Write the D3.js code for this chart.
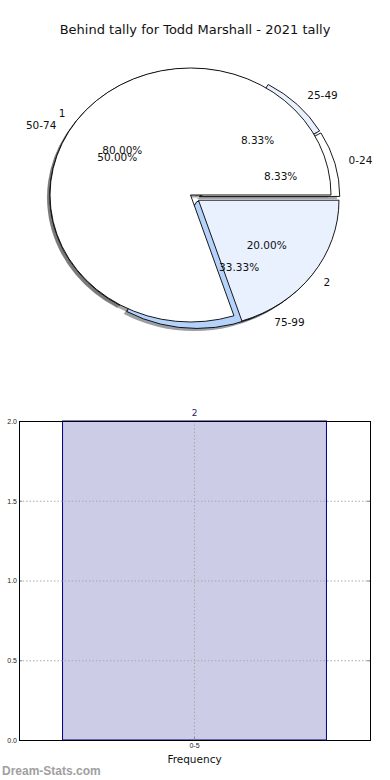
<!DOCTYPE html>
<html>
<head>
<meta charset="utf-8">
<script src="https://cdn.jsdelivr.net/npm/d3@7"></script>
<style>
  body { margin: 0; background: #fff; }
  svg { display: block; font-family: "DejaVu Sans", sans-serif; }
</style>
</head>
<body>
<div id="chart"></div>
<script>
const TITLE = 'Behind tally for Todd Marshall - 2021 tally';

// outer pie (score ranges) and inner pie (tally)
const outerLabels = ['0-24', '25-49', '50-74', '75-99'];
const outerValues = [1, 1, 6, 4];
const outerColors = ['#ffffff', '#e9f0fe', '#ffffff', '#b4d2fa'];
const innerLabels = ['1', '2'];
const innerValues = [4, 1];
const innerColors = ['#ffffff', '#e9f0fe'];

// frequency histogram
const barCategories = ['0-5'];
const barValues = [2];
const yTicks = [0, 0.5, 1.0, 1.5, 2.0];

const WIDTH = 390;
const HEIGHT = 780;

const PIE = { CX: 194.5, CY: 197.6, RX: 140.5, RY: 127 };
const EXPLODE = 0.035;
const SHADOW = 0.02;

const BAR = { LEFT: 19, RIGHT: 370, TOP: 421, BOTTOM: 740 };

const svg = d3.select('#chart')
              .append('svg')
              .attr('width', WIDTH)
              .attr('height', HEIGHT);

svg.append('text')
     .attr('x', WIDTH / 2)
     .attr('y', 34)
     .attr('text-anchor', 'middle')
     .style('font-size', '13px')
     .attr('fill', '#111')
     .text(TITLE);

// ---- pie ----
const px = d3.scaleLinear().domain([-1, 1]).range([PIE.CX - PIE.RX, PIE.CX + PIE.RX]);
const py = d3.scaleLinear().domain([-1, 1]).range([PIE.CY + PIE.RY, PIE.CY - PIE.RY]);

// counter-clockwise from 3 o'clock, like the original
const pie = d3.pie()
              .sort(null)
              .value(d => d.value)
              .startAngle(Math.PI / 2)
              .endAngle(Math.PI / 2 - 2 * Math.PI);

const arc = d3.arc().innerRadius(0).outerRadius(PIE.RX);

function build(labels, values, colors) {
  const total = d3.sum(values);
  return pie(labels.map((l, i) => ({ label: l, value: values[i], color: colors[i], pct: values[i] / total })))
    .map(d => {
      const a = (d.startAngle + d.endAngle) / 2;
      d.ux = Math.sin(a);
      d.uy = Math.cos(a);
      d.ox = EXPLODE * d.ux;
      d.oy = EXPLODE * d.uy;
      return d;
    });
}

const wedges = [
  ...build(outerLabels, outerValues, outerColors),
  ...build(innerLabels, innerValues, innerColors)
];

const yScale = PIE.RY / PIE.RX;

const shadowG = svg.append('g');
shadowG.selectAll('path')
  .data(wedges)
  .enter()
  .append('path')
  .attr('d', arc)
  .attr('transform', d => `translate(${px(d.ox - SHADOW)},${py(d.oy - SHADOW)}) scale(1,${yScale})`)
  .attr('fill', d => {
    const c = d3.rgb(d.data.color);
    return d3.rgb(c.r * 0.3, c.g * 0.3, c.b * 0.3);
  })
  .attr('fill-opacity', 0.5);

const wedgeG = svg.append('g');
wedgeG.selectAll('path')
  .data(wedges)
  .enter()
  .append('path')
  .attr('d', arc)
  .attr('transform', d => `translate(${px(d.ox)},${py(d.oy)}) scale(1,${yScale})`)
  .attr('fill', d => d.data.color)
  .attr('stroke', '#000')
  .attr('stroke-width', 0.9)
  .attr('vector-effect', 'non-scaling-stroke');

const textG = svg.append('g').style('font-size', '10.5px').attr('fill', '#111');
wedges.forEach(d => {
  textG.append('text')
       .attr('x', px(d.ox + 1.1 * d.ux))
       .attr('y', py(d.oy + 1.1 * d.uy))
       .attr('dy', '0.35em')
       .attr('text-anchor', d.ux < 0 ? 'end' : 'start')
       .text(d.data.label);
  textG.append('text')
       .attr('x', px(d.ox + 0.6 * d.ux))
       .attr('y', py(d.oy + 0.6 * d.uy))
       .attr('dy', '0.35em')
       .attr('text-anchor', 'middle')
       .text(d3.format('.2%')(d.data.pct));
});

// ---- bar chart ----
const x = d3.scaleBand()
            .domain(barCategories)
            .range([BAR.LEFT, BAR.RIGHT])
            .paddingInner(0)
            .paddingOuter(0.165);
const y = d3.scaleLinear()
            .domain([0, 2])
            .range([BAR.BOTTOM, BAR.TOP]);

svg.append('g')
   .selectAll('rect')
   .data(barValues)
   .enter()
   .append('rect')
   .attr('x', (d, i) => x(barCategories[i]))
   .attr('y', d => y(d))
   .attr('width', x.bandwidth())
   .attr('height', d => y(0) - y(d))
   .attr('fill', '#ccccE6')
   .attr('stroke', '#000080')
   .attr('stroke-width', 1);

const grid = svg.append('g')
                .attr('stroke', '#aaa')
                .attr('stroke-width', 1)
                .attr('stroke-dasharray', '1.5,2');
grid.selectAll('line.h')
    .data(yTicks)
    .enter()
    .append('line')
    .attr('x1', BAR.LEFT)
    .attr('x2', BAR.RIGHT)
    .attr('y1', d => y(d) + 0.5)
    .attr('y2', d => y(d) + 0.5);
grid.selectAll('line.v')
    .data(barCategories)
    .enter()
    .append('line')
    .attr('x1', d => x(d) + x.bandwidth() / 2)
    .attr('x2', d => x(d) + x.bandwidth() / 2)
    .attr('y1', BAR.TOP)
    .attr('y2', BAR.BOTTOM);

svg.append('g')
   .selectAll('text')
   .data(barValues)
   .enter()
   .append('text')
   .attr('x', (d, i) => x(barCategories[i]) + x.bandwidth() / 2)
   .attr('y', d => y(d) - 5)
   .attr('text-anchor', 'middle')
   .style('font-size', '9px')
   .attr('fill', '#222266')
   .text(d => d);

const yAxis = svg.append('g')
   .attr('transform', `translate(${BAR.LEFT},0)`)
   .call(d3.axisLeft(y).tickValues(yTicks).tickFormat(d3.format('.1f')).tickSize(-3).tickPadding(2));
yAxis.select('.domain').remove();
yAxis.selectAll('text').style('font-size', '7px').attr('fill', '#222');
yAxis.selectAll('line').attr('stroke', '#888');

const yAxisR = svg.append('g')
   .attr('transform', `translate(${BAR.RIGHT},0)`)
   .call(d3.axisRight(y).tickValues(yTicks).tickFormat('').tickSize(-3));
yAxisR.select('.domain').remove();
yAxisR.selectAll('line').attr('stroke', '#888');

const xAxis = svg.append('g')
   .attr('transform', `translate(0,${BAR.BOTTOM})`)
   .call(d3.axisBottom(x).tickSize(-3).tickPadding(3));
xAxis.select('.domain').remove();
xAxis.selectAll('text').style('font-size', '7px').attr('fill', '#222');
xAxis.selectAll('line').attr('stroke', '#888');

svg.append('rect')
   .attr('x', BAR.LEFT + 0.5)
   .attr('y', BAR.TOP + 0.5)
   .attr('width', BAR.RIGHT - BAR.LEFT)
   .attr('height', BAR.BOTTOM - BAR.TOP)
   .attr('fill', 'none')
   .attr('stroke', '#000')
   .attr('stroke-width', 1);

svg.append('text')
   .attr('x', (BAR.LEFT + BAR.RIGHT) / 2)
   .attr('y', 763)
   .attr('text-anchor', 'middle')
   .style('font-size', '10.5px')
   .attr('fill', '#111')
   .text('Frequency');

svg.append('text')
   .attr('x', 2)
   .attr('y', 775)
   .style('font-family', '"Liberation Sans", Arial, sans-serif')
   .style('font-size', '12px')
   .style('font-weight', 'bold')
   .attr('fill', '#a0a0a0')
   .text('Dream-Stats.com');
</script>
</body>
</html>
